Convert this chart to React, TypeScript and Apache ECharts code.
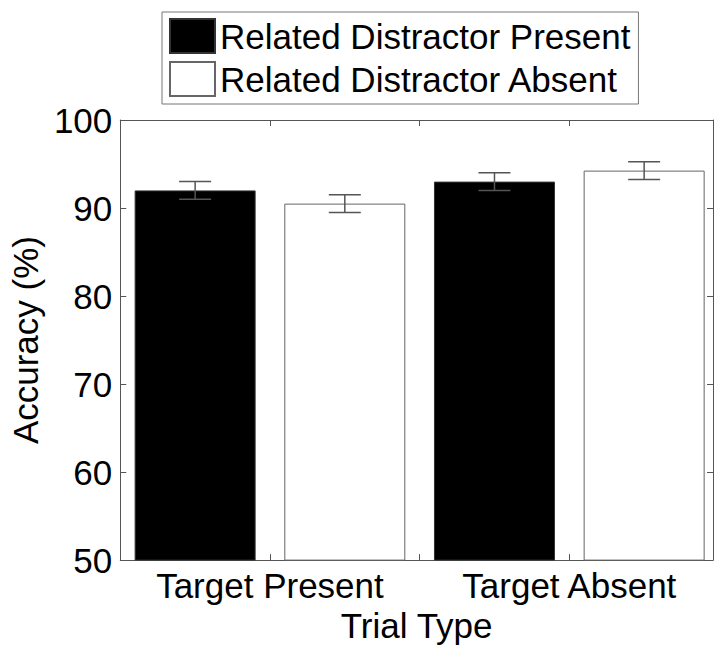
import React, { useEffect, useRef } from "react";
import * as echarts from "echarts";

const categories = ["Target Present", "Target Absent"];
const seriesNames = ["Related Distractor Present", "Related Distractor Absent"];
const presentValues = [92.0, 93.0];
const absentValues = [90.5, 94.25];
const presentErrors = [1.0, 1.0];
const absentErrors = [1.0, 1.0];
const yTicks = { min: 50, max: 100, interval: 10 };
const axisTitleX = "Trial Type";
const axisTitleY = "Accuracy (%)";

const FONT = "'Liberation Sans', Arial, sans-serif";
const AXIS_COLOR = "#555";

export default function App() {
  const ref = useRef<HTMLDivElement>(null);

  useEffect(() => {
    if (!ref.current) return;
    const chart = echarts.init(ref.current, undefined, { renderer: "svg" });

    const offset = 0.25;
    const presentData = presentValues.map((v, i) => [i + 1 - offset, v]);
    const absentData = absentValues.map((v, i) => [i + 1 + offset, v]);
    const errData = [
      ...presentValues.map((v, i) => [i + 1 - offset, v - presentErrors[i], v + presentErrors[i]]),
      ...absentValues.map((v, i) => [i + 1 + offset, v - absentErrors[i], v + absentErrors[i]]),
    ];

    const tickLabel = (v: number) => {
      if (Math.abs(v - 1) < 1e-6) return categories[0];
      if (Math.abs(v - 2) < 1e-6) return categories[1];
      return "";
    };

    const xCommon = {
      type: "value" as const,
      min: 0.5,
      max: 2.48,
      interval: 0.5,
      splitLine: { show: false },
      axisLine: { show: true, onZero: false, lineStyle: { color: AXIS_COLOR, width: 1 } },
      axisTick: { show: true, inside: true, length: 6, lineStyle: { color: AXIS_COLOR } },
    };
    const yCommon = {
      type: "value" as const,
      min: yTicks.min,
      max: yTicks.max,
      interval: yTicks.interval,
      splitLine: { show: false },
      axisLine: { show: true, onZero: false, lineStyle: { color: AXIS_COLOR, width: 1 } },
      axisTick: { show: true, inside: true, length: 6, lineStyle: { color: AXIS_COLOR } },
    };

    chart.setOption({
      animation: false,
      backgroundColor: "#fff",
      textStyle: { fontFamily: FONT },
      grid: { left: 118, top: 120, width: 595, height: 451, containLabel: false },
      legend: {
        data: seriesNames,
        orient: "vertical",
        left: 162,
        top: 12,
        icon: "rect",
        itemWidth: 45,
        itemHeight: 34,
        itemGap: 7,
        padding: [6, 8, 7, 7],
        borderColor: "#777",
        borderWidth: 1,
        selectedMode: false,
        textStyle: { fontSize: 35, color: "#000", fontFamily: FONT },
      },
      xAxis: [
        {
          ...xCommon,
          position: "bottom",
          name: axisTitleX,
          nameLocation: "middle",
          nameGap: 44,
          nameTextStyle: { fontSize: 35, color: "#000", fontFamily: FONT },
          axisLabel: {
            show: true,
            formatter: tickLabel,
            fontSize: 35,
            color: "#000",
            margin: 8,
            fontFamily: FONT,
            showMinLabel: true,
            showMaxLabel: true,
          },
        },
        { ...xCommon, position: "top", axisLabel: { show: false } },
      ],
      yAxis: [
        {
          ...yCommon,
          position: "left",
          name: axisTitleY,
          nameLocation: "middle",
          nameGap: 72,
          nameTextStyle: { fontSize: 35, color: "#000", fontFamily: FONT },
          axisLabel: { show: true, fontSize: 35, color: "#000", margin: 8, fontFamily: FONT },
        },
        { ...yCommon, position: "right", axisLabel: { show: false } },
      ],
      series: [
        {
          name: seriesNames[0],
          type: "bar",
          xAxisIndex: 0,
          yAxisIndex: 0,
          data: presentData,
          barWidth: 121,
          barGap: "-100%",
          itemStyle: { color: "#000", borderColor: "#333", borderWidth: 1 },
        },
        {
          name: seriesNames[1],
          type: "bar",
          xAxisIndex: 0,
          yAxisIndex: 0,
          data: absentData,
          barWidth: 121,
          barGap: "-100%",
          itemStyle: { color: "#fff", borderColor: "#666", borderWidth: 1 },
        },
        {
          name: "errors",
          type: "custom",
          xAxisIndex: 0,
          yAxisIndex: 0,
          z: 5,
          data: errData,
          encode: { x: 0, y: [1, 2] },
          renderItem: (params: any, api: any) => {
            const x = api.value(0);
            const lo = api.coord([x, api.value(1)]);
            const hi = api.coord([x, api.value(2)]);
            const hw = 16;
            const style = { stroke: "#555", lineWidth: 1.5 };
            return {
              type: "group",
              children: [
                { type: "line", shape: { x1: lo[0], y1: lo[1], x2: hi[0], y2: hi[1] }, style },
                { type: "line", shape: { x1: hi[0] - hw, y1: hi[1], x2: hi[0] + hw, y2: hi[1] }, style },
                { type: "line", shape: { x1: lo[0] - hw, y1: lo[1], x2: lo[0] + hw, y2: lo[1] }, style },
              ],
            };
          },
        },
      ],
    });

    return () => chart.dispose();
  }, []);

  return (
    <div
      ref={ref}
      style={{ position: "fixed", left: 0, top: 0, width: 717, height: 648, background: "#fff" }}
    />
  );
}
